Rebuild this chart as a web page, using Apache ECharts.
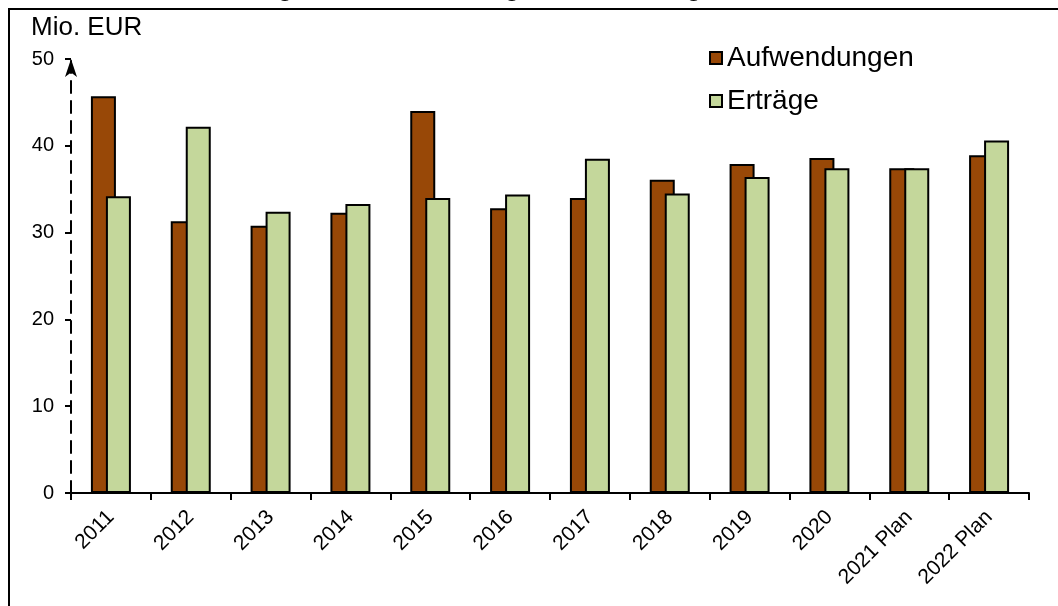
<!DOCTYPE html>
<html>
<head>
<meta charset="utf-8">
<script src="https://cdn.jsdelivr.net/npm/echarts@6/dist/echarts.min.js"></script>
<style>
html,body{margin:0;padding:0;background:#fff;}
#chart{width:1058px;height:606px;}
</style>
</head>
<body>
<div id="chart"></div>
<script>
var jahre = ['2011', '2012', '2013', '2014', '2015', '2016', '2017', '2018', '2019', '2020', '2021 Plan', '2022 Plan'];
var aufwendungen = [45.7, 31.3, 30.8, 32.3, 44.0, 32.8, 34.0, 36.1, 37.9, 38.6, 37.4, 38.9];
var ertraege = [34.2, 42.2, 32.4, 33.3, 34.0, 34.4, 38.5, 34.5, 36.4, 37.4, 37.4, 40.6];
var yTicks = [0, 10, 20, 30, 40, 50];

(function(){
    var dom = document.getElementById("chart");
    var myChart = echarts.init(dom);
    var schrift = '"Liberation Sans", Arial, sans-serif';

    var option = {
        backgroundColor: '#ffffff',
        animation: false,
        textStyle: {fontFamily: schrift, color: '#000'},
        graphic: [
            // abgeschnittene Überschrift oben
            {type: 'text', left: 12, top: -28, silent: true,
             style: {text: 'Grafik 1: Entwicklung der Aufwendungen und Erträge', font: '30px ' + schrift, fill: '#000'}},
            // Rahmen
            {type: 'rect', shape: {x: 9, y: 9, width: 1200, height: 1000}, silent: true,
             style: {fill: 'none', stroke: '#000', lineWidth: 2}},
            {type: 'text', left: 31, top: 15, silent: true,
             style: {text: 'Mio. EUR', font: '26px ' + schrift, fill: '#000'}}
        ],
        legend: {
            data: ['Aufwendungen', 'Erträge'],
            orient: 'vertical',
            left: 704,
            top: 39,
            itemGap: 15,
            itemWidth: 12,
            itemHeight: 12,
            icon: 'rect',
            textStyle: {fontSize: 28, fontFamily: schrift, color: '#000', padding: [0, 0, 0, 0]}
        },
        grid: {left: 71, right: 29, top: 59, bottom: 113},
        xAxis: {
            type: 'category',
            data: jahre,
            axisLine: {lineStyle: {color: '#000', width: 2}},
            axisTick: {show: true, length: 7, lineStyle: {color: '#000', width: 2}},
            axisLabel: {rotate: 45, fontSize: 21, color: '#000', margin: 21, fontFamily: schrift, interval: 0}
        },
        yAxis: {
            type: 'value',
            min: yTicks[0],
            max: yTicks[yTicks.length - 1],
            interval: 10,
            splitLine: {show: false},
            axisLine: {show: true, symbol: ['none', 'arrow'], symbolSize: [9, 18],
                lineStyle: {color: '#000', width: 2, type: [12, 8]}},
            axisTick: {show: true, length: 6, lineStyle: {color: '#000', width: 2}},
            axisLabel: {fontSize: 20, color: '#000', margin: 17, fontFamily: schrift}
        },
        series: [
            {name: 'Aufwendungen', type: 'bar', data: aufwendungen, barWidth: 25, barGap: '-40%',
             itemStyle: {color: '#984807', borderColor: '#000', borderWidth: 2}},
            {name: 'Erträge', type: 'bar', data: ertraege, barWidth: 25,
             itemStyle: {color: '#c4d79b', borderColor: '#000', borderWidth: 2}}
        ]
    };
    myChart.setOption(option, true);
})();
</script>
</body>
</html>
